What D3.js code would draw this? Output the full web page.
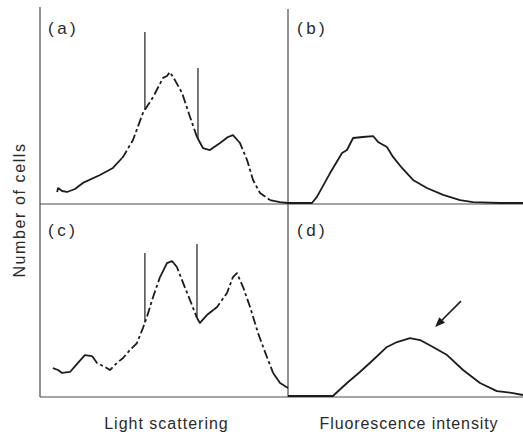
<!DOCTYPE html>
<html>
<head>
<meta charset="utf-8">
<script src="https://cdn.jsdelivr.net/npm/d3@7"></script>
<style>
  body { margin: 0; background: #fff; }
  text { font-family: "Liberation Sans", Arial, sans-serif; fill: #2a2a2a; }
</style>
</head>
<body>
<svg id="chart" width="523" height="434"></svg>
<script>
// panel curves, x = channel (0-100), y = relative number of cells (0-100)
const curveA = [
  [6.9, 6.1], [7.3, 8.1], [8.9, 6.6], [10.9, 6.1], [14.1, 7.6], [17.3, 10.7], [24.2, 14.7],
  [29.4, 18.3], [33.5, 23.9], [37.5, 32.5], [41.5, 46.2], [45.6, 54.3], [49.6, 64.0],
  [51.2, 65.0], [52.4, 67.0], [54.4, 62.9], [57.3, 56.3], [60.5, 44.2], [63.3, 34.0],
  [65.7, 28.4], [68.5, 27.4], [72.6, 31.0], [75.8, 34.0], [77.8, 35.0], [80.6, 31.0],
  [83.5, 22.3], [85.9, 12.2], [88.7, 5.6], [92.7, 2.0], [96.8, 1.0], [100, 0.5]
];
const curveB = [
  [0, 0.5], [10.2, 0.5], [12.3, 3.6], [17.9, 15.7], [23.0, 25.9], [25.1, 27.4], [27.7, 33.5],
  [31.9, 34.0], [36.2, 34.5], [38.3, 31.5], [42.1, 28.9], [44.7, 23.9], [48.5, 18.3],
  [53.2, 12.2], [59.1, 8.1], [66.0, 4.6], [73.2, 2.0], [78.7, 1.0], [90.2, 0.5], [100, 0.5]
];
const curveC = [
  [5.2, 14.7], [7.3, 13.7], [8.9, 12.2], [12.1, 12.7], [15.3, 17.3], [18.1, 21.3], [21.0, 20.8],
  [23.0, 17.3], [26.2, 15.2], [28.2, 13.7], [31.0, 17.3], [33.5, 19.8], [36.3, 23.9],
  [39.1, 27.4], [41.5, 35.0], [43.1, 40.6], [45.6, 50.8], [48.4, 60.9], [51.2, 68.0],
  [53.2, 69.0], [55.2, 66.0], [57.7, 57.9], [60.5, 49.2], [63.3, 40.1], [64.5, 37.6],
  [67.3, 41.6], [71.4, 45.7], [75.4, 52.8], [77.8, 60.9], [79.4, 62.9], [81.9, 55.8],
  [84.7, 45.7], [87.9, 32.5], [91.5, 20.3], [94.0, 12.2], [96.8, 7.1], [100, 4.6]
];
const curveD = [
  [0, 0.5], [19.1, 0.5], [25.1, 7.1], [30.6, 12.7], [36.2, 18.8], [42.1, 25.4], [46.4, 27.9],
  [51.9, 29.9], [56.2, 28.9], [61.7, 25.4], [67.7, 21.3], [74.5, 13.7], [81.7, 7.1],
  [88.9, 3.0], [95.7, 2.0], [100, 1.0]
];
// gate markers (x channel, top of line)
const gatesA = [[42.3, 87.3], [63.7, 69.0]];
const gatesC = [[42.3, 73.1], [63.3, 77.7]];
// channel ranges where the trace is broken
const brokenA = [[33, 63], [80, 89]];
const brokenC = [[21, 48], [54, 63], [70, 93]];
const panelLabels = ["(a)", "(b)", "(c)", "(d)"];
const xLabels = ["Light scattering", "Fluorescence intensity"];
const yLabel = "Number of cells";
const arrowD = [[73.6, 48.7], [62.6, 35.5]];

const svg = d3.select("#chart");
const ink = "#1c1c1c";
const axisCol = "#4a4a4a";

const xLeft = d3.scaleLinear().domain([0, 100]).range([40, 288]);
const xRight = d3.scaleLinear().domain([0, 100]).range([288, 523]);
const yTop = d3.scaleLinear().domain([0, 100]).range([204, 7]);
const yBot = d3.scaleLinear().domain([0, 100]).range([397, 200]);

// frame lines
svg.append("line").attr("x1", 40).attr("x2", 40).attr("y1", 7).attr("y2", 397)
  .attr("stroke", axisCol).attr("stroke-width", 1.2);
svg.append("line").attr("x1", 288).attr("x2", 288).attr("y1", 9).attr("y2", 397)
  .attr("stroke", axisCol).attr("stroke-width", 1.2);
svg.append("line").attr("x1", 40).attr("x2", 523).attr("y1", yTop(0)).attr("y2", yTop(0))
  .attr("stroke", axisCol).attr("stroke-width", 1.2);
svg.append("line").attr("x1", 40).attr("x2", 523).attr("y1", yBot(0)).attr("y2", yBot(0))
  .attr("stroke", axisCol).attr("stroke-width", 1.2);

const interp = (data, x) => {
  for (let i = 1; i < data.length; i++) {
    if (x <= data[i][0]) {
      const t = (x - data[i - 1][0]) / (data[i][0] - data[i - 1][0]);
      return data[i - 1][1] + t * (data[i][1] - data[i - 1][1]);
    }
  }
  return data[data.length - 1][1];
};

// split a curve into solid and broken pieces
const pieces = (data, broken) => {
  const cuts = broken.flat();
  const xs = Array.from(new Set(data.map(d => d[0]).concat(cuts))).sort((a, b) => a - b);
  const pts = xs.filter(x => x >= data[0][0]).map(x => [x, interp(data, x)]);
  const out = [];
  let cur = null;
  pts.forEach(p => {
    const isBroken = broken.some(r => p[0] >= r[0] && p[0] <= r[1]);
    if (!cur || cur.broken !== isBroken) {
      if (cur) cur.pts.push(p);
      cur = { broken: isBroken, pts: cur ? [cur.pts[cur.pts.length - 1], p] : [p] };
      if (cur.pts.length > 1 && cur.pts[0] === cur.pts[1]) cur.pts.shift();
      out.push(cur);
    } else {
      cur.pts.push(p);
    }
  });
  return out;
};

const drawCurve = (data, xs, ys, broken) => {
  const line = d3.line().x(d => xs(d[0])).y(d => ys(d[1]));
  svg.append("g").selectAll("path")
    .data(pieces(data, broken))
    .enter().append("path")
    .attr("d", d => line(d.pts))
    .attr("fill", "none")
    .attr("stroke", ink)
    .attr("stroke-width", 1.8)
    .attr("stroke-linejoin", "round")
    .attr("stroke-dasharray", d => d.broken ? "9,3,3,3" : null);
};

drawCurve(curveA, xLeft, yTop, brokenA);
drawCurve(curveB, xRight, yTop, []);
drawCurve(curveC, xLeft, yBot, brokenC);
drawCurve(curveD, xRight, yBot, []);

const drawGates = (gates, data, ys) => {
  svg.append("g").selectAll("line")
    .data(gates)
    .enter().append("line")
    .attr("x1", d => xLeft(d[0])).attr("x2", d => xLeft(d[0]))
    .attr("y1", d => ys(d[1])).attr("y2", d => ys(interp(data, d[0])))
    .attr("stroke", ink).attr("stroke-width", 1.2);
};
drawGates(gatesA, curveA, yTop);
drawGates(gatesC, curveC, yBot);

// arrow in (d)
const ax0 = xRight(arrowD[0][0]), ay0 = yBot(arrowD[0][1]);
const ax1 = xRight(arrowD[1][0]), ay1 = yBot(arrowD[1][1]);
const ang = Math.atan2(ay1 - ay0, ax1 - ax0);
svg.append("line").attr("x1", ax0).attr("y1", ay0)
  .attr("x2", ax1 - 6 * Math.cos(ang)).attr("y2", ay1 - 6 * Math.sin(ang))
  .attr("stroke", ink).attr("stroke-width", 1.6);
const head = [
  [ax1, ay1],
  [ax1 - 10 * Math.cos(ang) + 4 * Math.sin(ang), ay1 - 10 * Math.sin(ang) - 4 * Math.cos(ang)],
  [ax1 - 10 * Math.cos(ang) - 4 * Math.sin(ang), ay1 - 10 * Math.sin(ang) + 4 * Math.cos(ang)]
];
svg.append("path").attr("d", d3.line()(head) + "Z").attr("fill", ink);

// panel letters
const labelPos = [[48, 34], [297, 34], [48, 236], [297, 236]];
svg.append("g").selectAll("text")
  .data(panelLabels)
  .enter().append("text")
  .attr("x", (d, i) => labelPos[i][0]).attr("y", (d, i) => labelPos[i][1])
  .attr("font-size", 17).attr("letter-spacing", 3.5)
  .text(d => d);

// axis titles
svg.append("text").attr("x", xLeft(51)).attr("y", 429).attr("text-anchor", "middle")
  .attr("font-size", 16).attr("letter-spacing", 1).text(xLabels[0]);
svg.append("text").attr("x", xRight(51.5)).attr("y", 429).attr("text-anchor", "middle")
  .attr("font-size", 16).attr("letter-spacing", 0.9).text(xLabels[1]);
svg.append("text").attr("transform", "translate(25,210) rotate(-90)")
  .attr("text-anchor", "middle").attr("font-size", 16).attr("letter-spacing", 1.6)
  .text(yLabel);
</script>
</body>
</html>
